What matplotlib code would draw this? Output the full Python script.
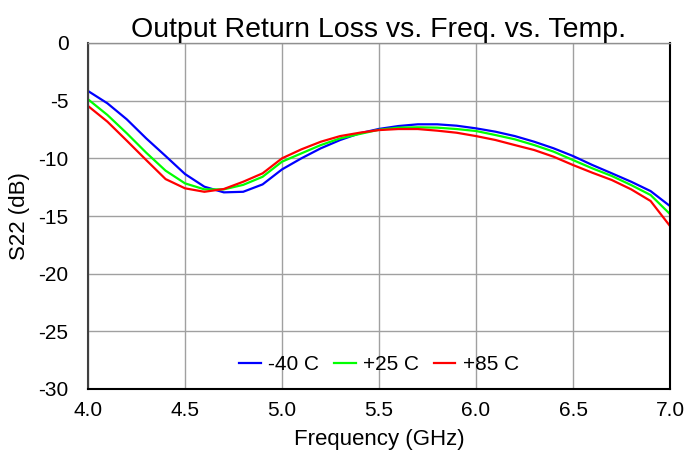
import matplotlib
matplotlib.use("Agg")
import matplotlib.pyplot as plt

plt.rcParams['font.family'] = ['Liberation Sans', 'DejaVu Sans']
plt.rcParams['axes.unicode_minus'] = False

freq = [4.0, 4.1, 4.2, 4.3, 4.4, 4.5, 4.6, 4.7, 4.8, 4.9, 5.0,
        5.1, 5.2, 5.3, 5.4, 5.5, 5.6, 5.7, 5.8, 5.9, 6.0,
        6.1, 6.2, 6.3, 6.4, 6.5, 6.6, 6.7, 6.8, 6.9, 7.0]

s22_m40 = [-4.16, -5.23, -6.62, -8.27, -9.80, -11.36, -12.46, -12.95, -12.90, -12.26, -10.96,
           -10.0, -9.13, -8.41, -7.83, -7.45, -7.2, -7.05, -7.05, -7.17, -7.4,
           -7.69, -8.07, -8.56, -9.13, -9.8, -10.58, -11.3, -12.03, -12.84, -14.14]

s22_p25 = [-4.88, -6.24, -7.83, -9.51, -11.07, -12.17, -12.69, -12.69, -12.3, -11.6, -10.29,
           -9.57, -8.85, -8.27, -7.89, -7.52, -7.34, -7.31, -7.34, -7.46, -7.63,
           -7.98, -8.35, -8.85, -9.42, -10.15, -10.87, -11.53, -12.32, -13.18, -14.83]

s22_p85 = [-5.46, -6.82, -8.47, -10.15, -11.8, -12.6, -12.9, -12.66, -12.03, -11.3, -10.0,
           -9.22, -8.56, -8.07, -7.78, -7.55, -7.46, -7.46, -7.6, -7.78, -8.07,
           -8.41, -8.85, -9.28, -9.86, -10.58, -11.25, -11.88, -12.69, -13.7, -15.87]

fig = plt.figure(figsize=(6.86, 4.53), dpi=100)
ax = fig.add_axes([88 / 686, 1 - 389 / 453, (670 - 88) / 686, (389 - 43) / 453])

ax.plot(freq, s22_m40, color='#0000ff', lw=1.6, label='-40 C')
ax.plot(freq, s22_p25, color='#00ff00', lw=1.6, label='+25 C')
ax.plot(freq, s22_p85, color='#ff0000', lw=1.6, label='+85 C')

ax.set_xlim(4.0, 7.0)
ax.set_ylim(-30, 0)
ax.set_xticks([4.0, 4.5, 5.0, 5.5, 6.0, 6.5, 7.0])
ax.set_xticklabels(['4.0', '4.5', '5.0', '5.5', '6.0', '6.5', '7.0'])
ax.set_yticks([0, -5, -10, -15, -20, -25, -30])
ax.grid(True, color='#a0a0a0', lw=1.0)
ax.tick_params(axis='x', length=0, labelsize=15, pad=9)
ax.tick_params(axis='y', length=0, labelsize=15, pad=14)

ax.spines['left'].set_color('#404040')
ax.spines['left'].set_linewidth(1.5)
ax.spines['bottom'].set_color('black')
ax.spines['bottom'].set_linewidth(1.5)
ax.spines['right'].set_color('black')
ax.spines['right'].set_linewidth(1.5)
ax.spines['top'].set_color('#909090')
ax.spines['top'].set_linewidth(1.0)

ax.set_title('Output Return Loss vs. Freq. vs. Temp.', fontsize=20.5, pad=4)
ax.set_xlabel('Frequency (GHz)', fontsize=16, labelpad=6)
ax.set_ylabel('S22 (dB)', fontsize=16, labelpad=6)

ax.legend(loc='center', ncol=3, frameon=False, fontsize=15,
          handlelength=1.05, columnspacing=0.7, handletextpad=0.35,
          bbox_to_anchor=(0.5, 1 - (365 - 43) / 346))

fig.savefig('out.png', dpi=100)
